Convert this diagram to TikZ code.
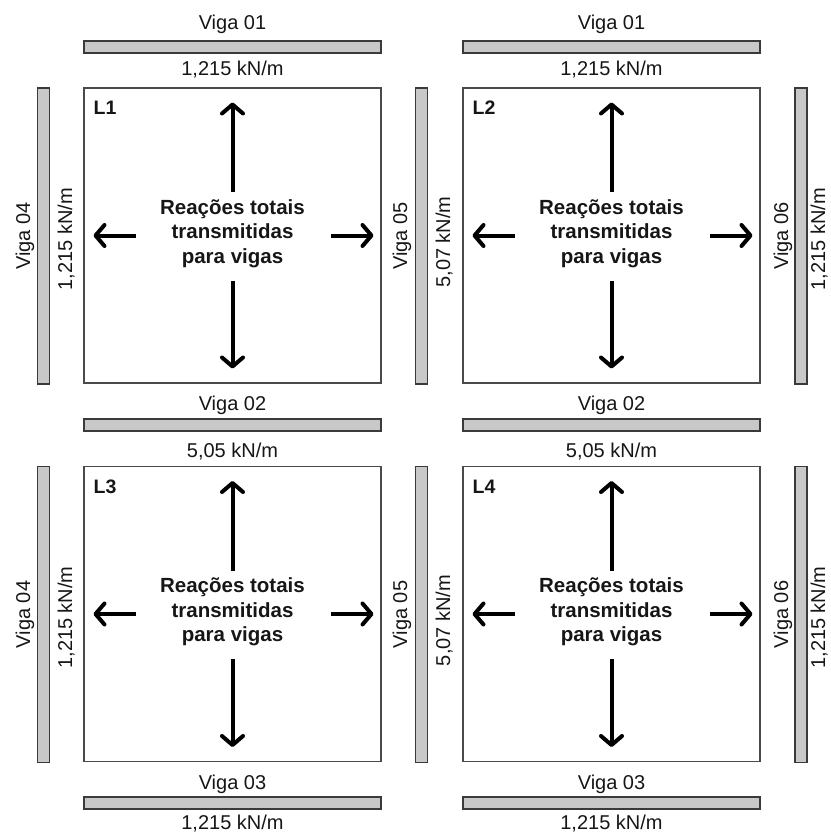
\documentclass[tikz,border=0pt]{standalone}
\usepackage{fontspec}
\setmainfont{Liberation Sans}
\usetikzlibrary{arrows.meta}
\definecolor{barfill}{HTML}{C8C8C8}
\definecolor{bardraw}{HTML}{3A3A3A}
\definecolor{boxdraw}{HTML}{4A4A4A}
\definecolor{ink}{HTML}{161616}
\newcommand\slabpanel[4]{%
  \node[slab] (#1) at (#2,#3) {};
  \node[reac] (#1txt) at (#2,#3-2) {Reações totais\\transmitidas\\para vigas};
  \node[tagtxt] (#1tag) at (#2-139,#3-127.5) {#4};
  \coordinate (#1n0) at (#2,#3-43); \coordinate (#1n1) at (#2,#3-133);
  \coordinate (#1s0) at (#2,#3+45); \coordinate (#1s1) at (#2,#3+133);
  \coordinate (#1w0) at (#2-97,#3); \coordinate (#1w1) at (#2-139,#3);
  \coordinate (#1e0) at (#2+98,#3); \coordinate (#1e1) at (#2+141,#3);
  \draw[arr] (#1n0) -- (#1n1);
  \draw[arr] (#1s0) -- (#1s1);
  \draw[arr] (#1w0) -- (#1w1);
  \draw[arr] (#1e0) -- (#1e1);
}
\begin{document}
\begin{tikzpicture}[x=1pt,y=-1pt,
  hbar/.style={draw=bardraw,fill=barfill,line width=1.3pt,minimum width=297pt,minimum height=12pt,inner sep=0pt},
  vbar/.style={draw=bardraw,fill=barfill,line width=1.3pt,minimum width=12pt,minimum height=296pt,inner sep=0pt},
  slab/.style={draw=boxdraw,line width=1.3pt,minimum width=297pt,minimum height=295pt,inner sep=0pt},
  lbl/.style={font=\fontsize{20}{24}\selectfont,text=ink,inner sep=0pt,anchor=base},
  vlbl/.style={lbl,rotate=90},
  tagtxt/.style={font=\bfseries\fontsize{19.5}{22}\selectfont,text=ink,inner sep=0pt,anchor=west},
  reac/.style={font=\bfseries\fontsize{20.5}{24.5}\selectfont,text=ink,align=center,inner sep=0pt},
  arr/.style={draw=black,line width=4pt,-{Straight Barb[round,length=9pt,width=21pt]}}
]
\useasboundingbox (0,0) rectangle (830,834);

% panels
\slabpanel{L1}{232.5}{235.5}{L1}
\slabpanel{L2}{611.5}{235.5}{L2}
\slabpanel{L3}{232.5}{614}{L3}
\slabpanel{L4}{611.5}{614}{L4}

% horizontal beams
\node[hbar] (b01a) at (232.5,47) {};
\node[hbar] (b01b) at (611.5,47) {};
\node[hbar] (b02a) at (232.5,425) {};
\node[hbar] (b02b) at (611.5,425) {};
\node[hbar] (b03a) at (232.5,803) {};
\node[hbar] (b03b) at (611.5,803) {};

\node[lbl] (t01a) at (232.5,29.3) {Viga 01};
\node[lbl] (t01b) at (611.5,29.3) {Viga 01};
\node[lbl] (q01a) at (232.5,76) {1,215 kN/m};
\node[lbl] (q01b) at (611.5,76) {1,215 kN/m};
\node[lbl] (t02a) at (232.5,410.7) {Viga 02};
\node[lbl] (t02b) at (611.5,410.7) {Viga 02};
\node[lbl] (q02a) at (232.5,457.3) {5,05 kN/m};
\node[lbl] (q02b) at (611.5,457.3) {5,05 kN/m};
\node[lbl] (t03a) at (232.5,789.3) {Viga 03};
\node[lbl] (t03b) at (611.5,789.3) {Viga 03};
\node[lbl] (q03a) at (232.5,829) {1,215 kN/m};
\node[lbl] (q03b) at (611.5,829) {1,215 kN/m};

% vertical beams
\node[vbar] (b04a) at (43.5,236) {};
\node[vbar] (b04b) at (43.5,614.5) {};
\node[vbar] (b05a) at (421.5,236) {};
\node[vbar] (b05b) at (421.5,614.5) {};
\node[vbar] (b06a) at (801,236) {};
\node[vbar] (b06b) at (801,614.5) {};

\node[vlbl] (t04a) at (30,236) {Viga 04};
\node[vlbl] (t04b) at (30,614.5) {Viga 04};
\node[vlbl] (q04a) at (72,239) {1,215 kN/m};
\node[vlbl] (q04b) at (72,617.5) {1,215 kN/m};
\node[vlbl] (t05a) at (407,236) {Viga 05};
\node[vlbl] (t05b) at (407,614.5) {Viga 05};
\node[vlbl] (q05a) at (450,242) {5,07 kN/m};
\node[vlbl] (q05b) at (450,620.5) {5,07 kN/m};
\node[vlbl] (t06a) at (788,236) {Viga 06};
\node[vlbl] (t06b) at (788,614.5) {Viga 06};
\node[vlbl] (q06a) at (825,239) {1,215 kN/m};
\node[vlbl] (q06b) at (825,617.5) {1,215 kN/m};
\end{tikzpicture}
\end{document}
